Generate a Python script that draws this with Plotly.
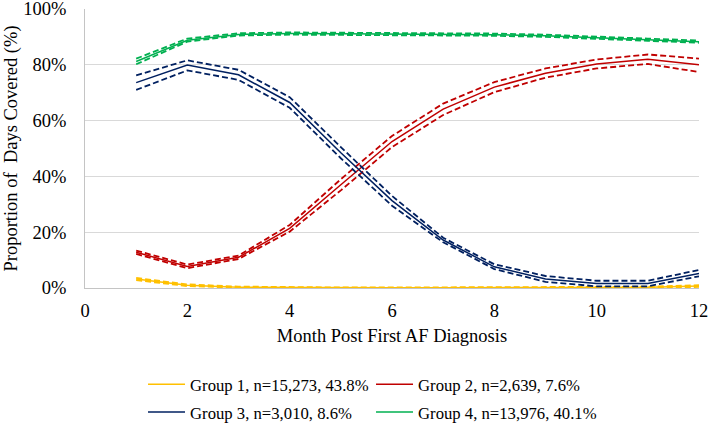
import plotly.graph_objects as go

months = [1, 2, 3, 4, 5, 6, 7, 8, 9, 10, 11, 12]

g1_mid = [3.2, 1.0, 0.3, 0.15, 0.1, 0.1, 0.1, 0.1, 0.1, 0.15, 0.25, 0.7]
g1_lo = [2.8, 0.7, 0.1, 0.0, 0.0, 0.0, 0.0, 0.0, 0.0, 0.0, 0.05, 0.4]
g1_hi = [3.6, 1.3, 0.5, 0.3, 0.2, 0.2, 0.2, 0.2, 0.2, 0.3, 0.45, 1.0]

g2_mid = [12.8, 7.7, 11.0, 21.4, 37.0, 52.5, 64.1, 72.0, 77.0, 80.3, 82.0, 80.0]
g2_lo = [12.2, 7.1, 10.4, 20.2, 35.0, 50.5, 62.0, 70.2, 75.4, 78.7, 80.3, 77.4]
g2_hi = [13.4, 8.4, 11.6, 22.6, 39.0, 54.5, 66.1, 73.8, 78.7, 81.9, 83.7, 82.2]

g3_mid = [73.6, 79.9, 76.4, 66.5, 48.5, 31.3, 17.2, 7.6, 3.2, 1.6, 1.6, 5.2]
g3_lo = [71.0, 78.0, 74.6, 64.6, 46.5, 29.5, 16.4, 6.8, 2.2, 0.6, 0.6, 4.2]
g3_hi = [76.2, 81.6, 78.2, 68.4, 50.5, 33.0, 18.0, 8.5, 4.3, 2.6, 2.6, 6.5]

g4_mid = [81.2, 88.8, 90.9, 91.2, 91.1, 91.0, 90.9, 90.8, 90.4, 89.8, 89.0, 88.3]
g4_lo = [80.2, 88.3, 90.5, 90.8, 90.7, 90.6, 90.5, 90.4, 90.0, 89.4, 88.6, 87.9]
g4_hi = [82.2, 89.4, 91.3, 91.6, 91.5, 91.4, 91.3, 91.2, 90.8, 90.2, 89.4, 88.7]

x_ticks = [0, 2, 4, 6, 8, 10, 12]
y_ticks = [0, 20, 40, 60, 80, 100]
y_tick_labels = ["0%", "20%", "40%", "60%", "80%", "100%"]

names = ["Group 1, n=15,273, 43.8%", "Group 2, n=2,639, 7.6%",
         "Group 3, n=3,010, 8.6%", "Group 4, n=13,976, 40.1%"]
colors = ["#FFC000", "#C00000", "#002060", "#00B050"]
legends = ["legend", "legend", "legend2", "legend2"]

series = [(g1_mid, g1_lo, g1_hi), (g2_mid, g2_lo, g2_hi),
          (g3_mid, g3_lo, g3_hi), (g4_mid, g4_lo, g4_hi)]

FONT = "Liberation Serif"

fig = go.Figure()
for (mid, lo, hi), name, col, lg in zip(series, names, colors, legends):
    for ci in (lo, hi):
        fig.add_trace(go.Scatter(x=months, y=ci, mode="lines", showlegend=False,
                                 line=dict(color=col, width=1.8, dash="6px,3px"),
                                 hoverinfo="skip"))
    fig.add_trace(go.Scatter(x=months, y=mid, mode="lines", name=name, legend=lg,
                             line=dict(color=col, width=1.5)))

legend_common = dict(orientation="h", xanchor="left", yanchor="middle",
                     entrywidth=176, entrywidthmode="pixels", itemwidth=37,
                     bgcolor="rgba(0,0,0,0)", font=dict(family=FONT, size=16.7, color="#000"),
                     traceorder="normal")

fig.update_layout(
    width=709, height=424,
    template="none",
    paper_bgcolor="white", plot_bgcolor="white",
    margin=dict(l=85, r=10, t=9, b=135.5, autoexpand=False),
    font=dict(family=FONT, size=18.5, color="#000"),
    showlegend=True,
    legend=dict(x=0.0945, y=-0.3453, **legend_common),
    legend2=dict(x=0.0945, y=-0.4454, **legend_common),
    xaxis=dict(range=[0, 12], tickmode="array", tickvals=x_ticks,
               showgrid=False, zeroline=False, showline=True, linecolor="#C4C4C4",
               linewidth=1, ticks="", ticklabelstandoff=6, ticklabeloverflow="allow",
               tickfont=dict(family=FONT, size=18.5),
               title=dict(text="Month Post First AF Diagnosis", standoff=8,
                          font=dict(family=FONT, size=18.5))),
    xaxis2=dict(range=[0, 12], overlaying="x", side="top", showline=True,
                linecolor="#D9D9D9", linewidth=1, showgrid=False, zeroline=False,
                showticklabels=False, ticks=""),
    yaxis=dict(range=[0, 100], tickmode="array", tickvals=y_ticks, ticktext=y_tick_labels,
               showgrid=True, gridcolor="#D9D9D9", gridwidth=1, zeroline=False,
               showline=True, linecolor="#C4C4C4", linewidth=1, ticks="",
               ticklabelstandoff=14, ticklabeloverflow="allow",
               tickfont=dict(family=FONT, size=18.5),
               title=dict(text="Proportion of \u00a0Days Covered (%)", standoff=0,
                          font=dict(family=FONT, size=18.5))),
)

fig.write_html("out.html", config={"displayModeBar": False},
               post_script="document.body.style.margin='0px';document.body.style.padding='0px';")
